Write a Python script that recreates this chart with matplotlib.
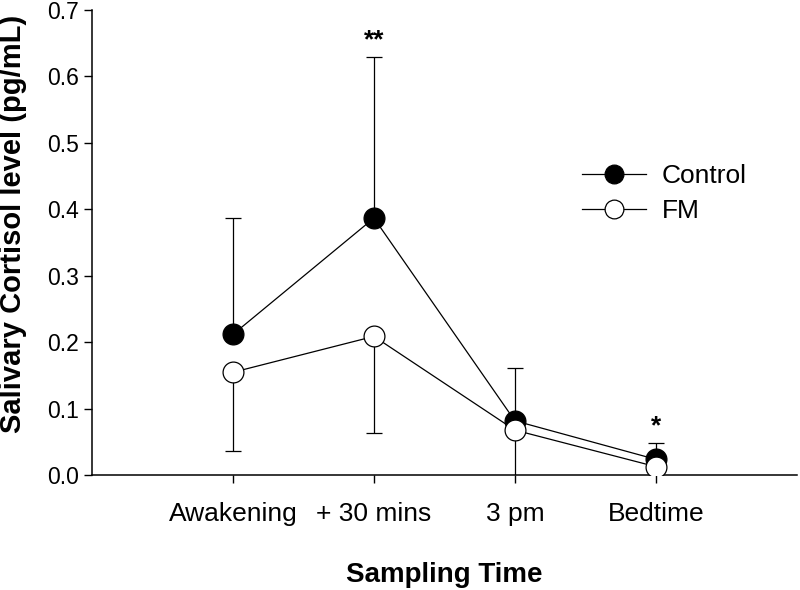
import numpy as np
import matplotlib
matplotlib.use("Agg")
import matplotlib.pyplot as plt

plt.rcParams['font.family'] = ['Liberation Sans', 'DejaVu Sans']

times = ['Awakening', '+ 30 mins', '3 pm', 'Bedtime']
control_mean = [0.212, 0.387, 0.082, 0.024]
control_err_up = [0.175, 0.242, 0.079, 0.024]
fm_mean = [0.155, 0.209, 0.068, 0.013]
fm_err_down = [0.118, 0.145, 0.09, 0.005]
stars = ['', '**', '', '*']
star_y = [0, 0.655, 0, 0.074]

x = np.arange(1, len(times) + 1)

fig = plt.figure(figsize=(8, 5.9), dpi=100)
ax = fig.add_axes([0.115, 0.1944, 0.881, 0.7886])

# control: upper error bars only
ax.errorbar(x, control_mean, yerr=[np.zeros(4), control_err_up], fmt='none',
            ecolor='black', elinewidth=0.9, capsize=6, capthick=0.9, zorder=1)
ax.plot(x, control_mean, '-o', color='black', lw=0.9, ms=15,
        mfc='black', mec='black', mew=0.9, label='Control', zorder=3)

# FM: lower error bars only
ax.errorbar(x, fm_mean, yerr=[fm_err_down, np.zeros(4)], fmt='none',
            ecolor='black', elinewidth=0.9, capsize=6, capthick=0.9, zorder=2)
ax.plot(x, fm_mean, '-o', color='black', lw=0.9, ms=15,
        mfc='white', mec='black', mew=0.9, label='FM', zorder=4)

for xi, s, sy in zip(x, stars, star_y):
    if s:
        ax.text(xi, sy, s, ha='center', va='center', fontsize=19, fontweight='bold')

ax.set_xlim(0, 5)
ax.set_ylim(0, 0.7)
ax.set_xticks(x)
ax.set_xticklabels(times, fontsize=19)
ax.set_yticks(np.arange(0, 0.71, 0.1))
ax.set_yticklabels([f'{v:.1f}' for v in np.arange(0, 0.71, 0.1)], fontsize=16.5)
ax.tick_params(axis='both', direction='out', length=6, width=1, color='black')
ax.tick_params(axis='x', pad=13)
for side in ['top', 'right']:
    ax.spines[side].set_visible(False)
for side in ['left', 'bottom']:
    ax.spines[side].set_linewidth(1.1)

ax.set_xlabel('Sampling Time', fontsize=20, fontweight='bold', labelpad=26)
ax.set_ylabel('Salivary Cortisol level (pg/mL)', fontsize=21, fontweight='bold')
ax.yaxis.set_label_coords(-0.092, 0.54)

ax.legend(loc='upper left', bbox_to_anchor=(0.662, 0.72), frameon=False,
          fontsize=19, handlelength=2.4, handletextpad=0.6, labelspacing=0.42,
          markerscale=0.9)

fig.savefig('out.png', dpi=100)
